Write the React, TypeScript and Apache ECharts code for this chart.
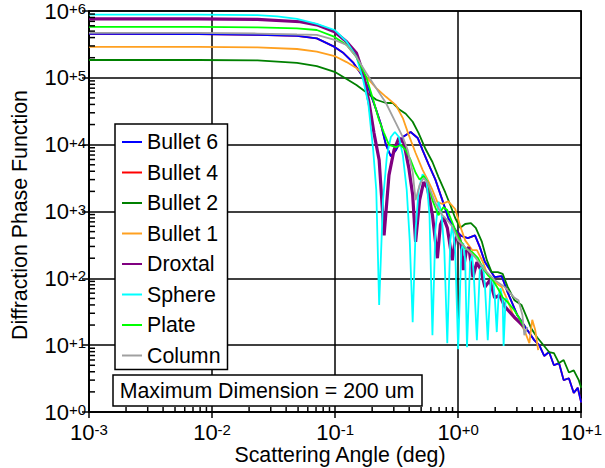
import { useEffect, useRef } from "react";
import * as echarts from "echarts";

const FONT = '"Liberation Sans", Arial, Helvetica, sans-serif';

const xMin = 0.001;
const xMax = 10;
const yMin = 1;
const yMax = 1e6;

// [scattering angle (deg), phase function]
const bullet6: [number, number][] = [
  [0.001, 4.57e5], [0.0077, 4.5e5], [0.0234, 4.4e5], [0.049, 4.25e5], [0.071, 3.9e5], [0.099, 2.9e5],
  [0.117, 2.35e5], [0.141, 1.67e5], [0.169, 1.03e5], [0.189, 6.6e4], [0.216, 3.3e4], [0.236, 2.0e4],
  [0.259, 9.9e3], [0.284, 6.7e3], [0.312, 8.3e3], [0.355, 1.3e4], [0.411, 1.55e4], [0.469, 1.26e4],
  [0.514, 8.3e3], [0.574, 5.1e3], [0.653, 3.0e3], [0.744, 1.48e3], [0.831, 800], [0.946, 530],
  [1.06, 430], [1.2, 400], [1.37, 440], [1.5, 293], [1.65, 175], [1.98, 104], [2.26, 108], [2.52, 62],
  [3.03, 28], [3.65, 16.8], [4.15, 11.9], [4.56, 10], [5.0, 6.9], [5.48, 7.9], [6.0, 5.0], [6.6, 5.4],
  [7.2, 3.0], [7.94, 3.2], [8.7, 1.93], [9.37, 2.3], [10, 1.39],
];

// Bullet 4 runs underneath Bullet 6 over the whole range
const bullet4: [number, number][] = bullet6.map(([a, v]) => [a, v]);

const bullet2: [number, number][] = [
  [0.001, 1.85e5], [0.0077, 1.85e5], [0.0234, 1.82e5], [0.049, 1.67e5], [0.071, 1.5e5], [0.099, 1.23e5],
  [0.124, 9.6e4], [0.149, 7.8e4], [0.179, 6.1e4], [0.216, 4.7e4], [0.259, 4.2e4], [0.295, 4.2e4],
  [0.33, 3.4e4], [0.375, 2.9e4], [0.427, 2.2e4], [0.477, 1.49e4], [0.543, 8.6e3], [0.618, 5.5e3],
  [0.691, 3.3e3], [0.787, 1.91e3], [0.863, 1.25e3], [0.946, 800], [1.04, 570], [1.14, 650], [1.27, 670],
  [1.39, 570], [1.56, 350], [1.71, 187], [1.87, 124], [2.1, 124], [2.3, 117], [2.52, 75], [2.87, 47],
  [3.27, 40], [3.58, 27], [3.93, 17.7], [4.39, 13], [5.0, 9.7], [5.48, 7.9], [6.0, 7.6], [6.6, 5.4],
  [7.2, 6.0], [7.94, 3.9], [8.7, 4.2], [9.55, 3.0], [10, 2.3],
];

const bullet1: [number, number][] = [
  [0.001, 2.9e5], [0.0077, 2.9e5], [0.0234, 2.85e5], [0.049, 2.7e5], [0.071, 2.46e5], [0.099, 2.12e5],
  [0.124, 1.72e5], [0.149, 1.4e5], [0.179, 1.03e5], [0.216, 7.0e4], [0.259, 5.2e4], [0.312, 3.9e4],
  [0.355, 2.5e4], [0.397, 1.39e4], [0.451, 7.5e3], [0.514, 4.2e3], [0.564, 3.0e3], [0.618, 2.1e3],
  [0.678, 1.38e3], [0.744, 1.3e3], [0.831, 1.42e3], [0.946, 1.09e3], [1.04, 600], [1.14, 370],
  [1.3, 265], [1.42, 265], [1.59, 175], [1.71, 120], [1.98, 88], [2.26, 74], [2.52, 47], [2.87, 25],
  [3.15, 22], [3.45, 16.8], [3.79, 10.7], [4.0, 24], [4.23, 16.8], [4.47, 8.4],
];

const droxtal: [number, number][] = [
  [0.001, 7.6e5], [0.0077, 7.6e5], [0.0234, 7.5e5], [0.0519, 6.9e5], [0.071, 6.2e5], [0.099, 4.9e5],
  [0.124, 3.47e5], [0.149, 2.35e5], [0.169, 1.18e5], [0.189, 4.2e4], [0.207, 1.49e4], [0.228, 5.9e3],
  [0.25, 440], [0.274, 3.5e3], [0.301, 8.3e3], [0.33, 1.26e4], [0.362, 1.06e4], [0.397, 4.5e3],
  [0.427, 1.76e3], [0.451, 350], [0.486, 1.48e3], [0.524, 2.75e3], [0.564, 2.24e3], [0.618, 880],
  [0.678, 200], [0.717, 630], [0.758, 820], [0.816, 570], [0.895, 187], [0.946, 370], [1.0, 475],
  [1.06, 310], [1.1, 133], [1.16, 247], [1.22, 293], [1.32, 104], [1.42, 175], [1.53, 133], [1.65, 74],
  [1.81, 94], [1.98, 51], [2.17, 56], [2.39, 38], [2.87, 26], [3.45, 18.6],
];

const sphere: [number, number][] = [
  [0.001, 8.8e5], [0.0077, 8.8e5], [0.0234, 8.65e5], [0.0339, 8.3e5], [0.049, 7.6e5], [0.071, 6.4e5],
  [0.099, 5.2e5], [0.124, 3.47e5], [0.149, 2.07e5], [0.169, 9.3e4], [0.186, 4.2e4], [0.196, 1.66e4],
  [0.204, 8.3e3], [0.216, 2.1e3], [0.228, 40], [0.245, 1.48e3], [0.264, 7.0e3], [0.284, 1.3e4],
  [0.306, 1.55e4], [0.33, 1.3e4], [0.355, 7.0e3], [0.382, 2.1e3], [0.404, 370], [0.427, 22],
  [0.451, 530], [0.477, 2.1e3], [0.514, 3.6e3], [0.553, 3.0e3], [0.585, 880], [0.618, 14.1],
  [0.653, 530], [0.691, 1.4e3], [0.73, 1.0e3], [0.772, 265], [0.816, 10.7], [0.863, 370], [0.895, 630],
  [0.946, 265], [1.0, 8.7], [1.06, 265], [1.1, 337], [1.14, 187], [1.18, 9.3], [1.25, 175], [1.3, 220],
  [1.34, 112], [1.42, 11.9], [1.5, 133], [1.59, 158], [1.65, 79], [1.74, 11.9], [1.84, 94], [1.91, 104],
  [1.98, 56], [2.06, 15.7], [2.13, 56], [2.21, 71], [2.3, 47], [2.34, 9.7], [2.43, 50], [2.52, 47],
];

const plate: [number, number][] = [
  [0.001, 5.8e5], [0.0077, 5.8e5], [0.0234, 5.7e5], [0.049, 5.5e5], [0.071, 5.2e5], [0.099, 4.1e5],
  [0.124, 3.1e5], [0.149, 2.05e5], [0.179, 1.03e5], [0.204, 4.7e4], [0.228, 2.3e4], [0.25, 1.49e4],
  [0.274, 9.9e3], [0.312, 9.2e3], [0.342, 9.9e3], [0.375, 8.3e3], [0.411, 5.9e3], [0.451, 3.8e3],
  [0.486, 3.0e3], [0.524, 3.4e3], [0.564, 2.75e3], [0.618, 1.48e3], [0.691, 880], [0.758, 1.16e3],
  [0.816, 1.05e3], [0.895, 690], [1.0, 415], [1.14, 283], [1.3, 247], [1.45, 200], [1.59, 142],
  [1.74, 112], [1.91, 94], [2.1, 71], [2.3, 52], [2.52, 44], [2.87, 33], [3.15, 25], [3.45, 18.6],
];

const column: [number, number][] = [
  [0.001, 4.7e5], [0.0077, 4.7e5], [0.0234, 4.6e5], [0.049, 4.45e5], [0.071, 4.4e5], [0.099, 3.7e5],
  [0.124, 3.1e5], [0.149, 2.05e5], [0.179, 1.18e5], [0.216, 7.0e4], [0.259, 4.2e4], [0.312, 2.1e4],
  [0.355, 1.3e4], [0.389, 8.3e3], [0.427, 3.9e3], [0.451, 1.48e3], [0.486, 2.5e3], [0.524, 3.16e3],
  [0.564, 2.7e3], [0.653, 1.34e3], [0.744, 880], [0.816, 740], [0.895, 600], [1.0, 370], [1.14, 293],
  [1.37, 207], [1.65, 133], [1.98, 94], [2.39, 74], [2.87, 51], [3.09, 47], [3.33, 28], [3.45, 14.1],
  [3.65, 18.6],
];

const legendNames = ["Bullet 6", "Bullet 4", "Bullet 2", "Bullet 1", "Droxtal", "Sphere", "Plate", "Column"];

// drawing order: Bullet 4 first so that Bullet 6 sits on top of it
const seriesDefs = [
  { name: "Bullet 4", data: bullet4, color: "#FF0000", width: 1.8 },
  { name: "Bullet 6", data: bullet6, color: "#0000FF", width: 1.8 },
  { name: "Bullet 2", data: bullet2, color: "#008000", width: 1.8 },
  { name: "Bullet 1", data: bullet1, color: "#FFA020", width: 1.8 },
  { name: "Droxtal", data: droxtal, color: "#800080", width: 3.2 },
  { name: "Sphere", data: sphere, color: "#00FFFF", width: 1.8 },
  { name: "Plate", data: plate, color: "#00FF00", width: 1.8 },
  { name: "Column", data: column, color: "#A0A0A0", width: 1.8 },
];

// log-axis minor tick positions (2..9 within each decade)
function minorTicks(lo: number, hi: number): number[] {
  const out: number[] = [];
  for (let e = Math.round(Math.log10(lo)); e < Math.round(Math.log10(hi)); e++) {
    for (let m = 2; m <= 9; m++) out.push(m * Math.pow(10, e));
  }
  return out;
}

function expLabel(v: number): string {
  const e = Math.round(Math.log10(v));
  const s = e >= 0 ? `+${e}` : `${e}`;
  return `{b|10}{s|${s}}`;
}

const labelRich = {
  b: { fontSize: 22, fontFamily: FONT, color: "#000", lineHeight: 20 },
  s: { fontSize: 15, fontFamily: FONT, color: "#000", lineHeight: 9, verticalAlign: "top" },
};

export default function App() {
  const ref = useRef<HTMLDivElement>(null);

  useEffect(() => {
    if (!ref.current) return;
    const chart = echarts.init(ref.current, undefined, { renderer: "svg" });

    const lineSeries = seriesDefs.map((d) => ({
      type: "line",
      name: d.name,
      data: d.data,
      symbol: "none",
      showSymbol: false,
      color: d.color,
      lineStyle: { color: d.color, width: d.width },
      z: 2,
    }));

    const xMinorSeries = {
      type: "custom",
      silent: true,
      z: 5,
      data: minorTicks(xMin, xMax).map((v) => [v, yMin]),
      renderItem: (_params: any, api: any) => {
        const p = api.coord([api.value(0), yMin]);
        return {
          type: "line",
          shape: { x1: p[0], y1: p[1], x2: p[0], y2: p[1] - 5 },
          style: { stroke: "#000", lineWidth: 1.5 },
        };
      },
    };

    const yMinorSeries = {
      type: "custom",
      silent: true,
      z: 5,
      data: minorTicks(yMin, yMax).map((v) => [xMin, v]),
      renderItem: (_params: any, api: any) => {
        const p = api.coord([xMin, api.value(1)]);
        return {
          type: "line",
          shape: { x1: p[0], y1: p[1], x2: p[0] + 6, y2: p[1] },
          style: { stroke: "#000", lineWidth: 1.5 },
        };
      },
    };

    chart.setOption({
      animation: false,
      backgroundColor: "#fff",
      grid: {
        left: 89,
        right: 18,
        top: 11,
        bottom: 56,
        show: true,
        borderColor: "#000",
        borderWidth: 1.5,
      },
      xAxis: {
        type: "log",
        logBase: 10,
        min: xMin,
        max: xMax,
        axisLine: { show: true, lineStyle: { color: "#000", width: 1.5 } },
        axisTick: { show: true, length: 6, lineStyle: { color: "#000", width: 1.5 } },
        splitLine: { show: true, lineStyle: { color: "#000", width: 1.5 } },
        axisLabel: { formatter: expLabel, rich: labelRich, margin: 10 },
      },
      yAxis: {
        type: "log",
        logBase: 10,
        min: yMin,
        max: yMax,
        axisLine: { show: true, lineStyle: { color: "#000", width: 1.5 } },
        axisTick: { show: true, length: 7, lineStyle: { color: "#000", width: 1.5 } },
        splitLine: { show: true, lineStyle: { color: "#000", width: 1.5 } },
        axisLabel: { formatter: expLabel, rich: labelRich, margin: 3 },
      },
      legend: {
        data: legendNames,
        orient: "vertical",
        left: 115,
        top: 124,
        padding: [6, 7, 2, 6],
        itemGap: 6.5,
        itemWidth: 20,
        itemHeight: 14,
        // keep only the line sample in each legend entry
        itemStyle: { opacity: 0 },
        backgroundColor: "#fff",
        borderColor: "#000",
        borderWidth: 1.5,
        borderRadius: 0,
        selectedMode: false,
        textStyle: { fontFamily: FONT, fontSize: 21.33, color: "#000", lineHeight: 24 },
      },
      graphic: [
        {
          type: "rect",
          z: 100,
          shape: { x: 113, y: 375, width: 309, height: 31 },
          style: { fill: "#fff", stroke: "#000", lineWidth: 1.5 },
        },
        {
          type: "text",
          z: 101,
          x: 267,
          y: 390.5,
          style: {
            text: "Maximum Dimension = 200 um",
            fontFamily: FONT,
            fontSize: 21.33,
            fill: "#000",
            align: "center",
            verticalAlign: "middle",
          },
        },
        {
          type: "text",
          z: 101,
          x: 340,
          y: 455,
          style: {
            text: "Scattering Angle (deg)",
            fontFamily: FONT,
            fontSize: 21.33,
            lineHeight: 20,
            fill: "#000",
            align: "center",
            verticalAlign: "middle",
          },
        },
        {
          type: "text",
          z: 101,
          x: 20,
          y: 215,
          rotation: Math.PI / 2,
          style: {
            text: "Diffraction Phase Function",
            fontFamily: FONT,
            fontSize: 21.33,
            fill: "#000",
            align: "center",
            verticalAlign: "middle",
          },
        },
      ],
      series: [...lineSeries, xMinorSeries, yMinorSeries],
    });

    return () => chart.dispose();
  }, []);

  return (
    <div
      ref={ref}
      style={{ position: "fixed", left: 0, top: 0, width: 605, height: 468, background: "#fff" }}
    />
  );
}
